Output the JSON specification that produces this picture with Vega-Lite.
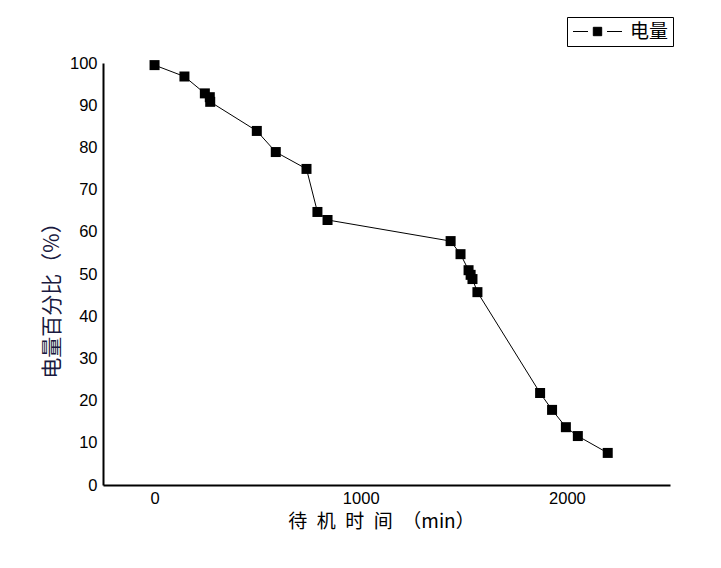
{
  "$schema": "https://vega.github.io/schema/vega-lite/v6.json",
  "autosize": "none",
  "width": 567,
  "height": 422,
  "padding": {"left": 103, "top": 63, "right": 51, "bottom": 83},
  "background": "white",
  "config": {"view": {"stroke": null}},
  "data": {"values": [
    {"t": 0, "p": 99.5, "s": "电量"},
    {"t": 145, "p": 96.8, "s": "电量"},
    {"t": 244, "p": 92.8, "s": "电量"},
    {"t": 268, "p": 91.9, "s": "电量"},
    {"t": 270, "p": 90.8, "s": "电量"},
    {"t": 496, "p": 83.9, "s": "电量"},
    {"t": 588, "p": 78.9, "s": "电量"},
    {"t": 737, "p": 74.9, "s": "电量"},
    {"t": 790, "p": 64.7, "s": "电量"},
    {"t": 839, "p": 62.8, "s": "电量"},
    {"t": 1436, "p": 57.8, "s": "电量"},
    {"t": 1484, "p": 54.7, "s": "电量"},
    {"t": 1523, "p": 50.9, "s": "电量"},
    {"t": 1533, "p": 49.8, "s": "电量"},
    {"t": 1542, "p": 48.8, "s": "电量"},
    {"t": 1566, "p": 45.7, "s": "电量"},
    {"t": 1870, "p": 21.8, "s": "电量"},
    {"t": 1928, "p": 17.8, "s": "电量"},
    {"t": 1995, "p": 13.7, "s": "电量"},
    {"t": 2053, "p": 11.6, "s": "电量"},
    {"t": 2198, "p": 7.6, "s": "电量"}
  ]},
  "encoding": {
    "x": {"field": "t", "type": "quantitative",
      "scale": {"domain": [-250, 2500], "nice": false, "zero": false},
      "axis": {"values": [0, 1000, 2000], "format": "d", "grid": false, "ticks": false, "domainColor": "black", "domainWidth": 2,
        "labelFont": "Liberation Sans", "labelFontSize": 16.5, "labelColor": "black", "labelPadding": 5,
        "title": "待\u2002机\u2002时\u2002间\u2002（min）", "titleFont": "Noto Sans CJK SC", "titleFontSize": 19, "titleFontWeight": "normal", "titleColor": "black", "titlePadding": 6, "titleX": 278, "titleAlign": "center"}},
    "y": {"field": "p", "type": "quantitative",
      "scale": {"domain": [0, 100], "nice": false},
      "axis": {"values": [0,10,20,30,40,50,60,70,80,90,100], "grid": false, "ticks": false, "domainColor": "black", "domainWidth": 2,
        "labelFont": "Liberation Sans", "labelFontSize": 16.5, "labelColor": "black", "labelPadding": 6,
        "title": "电量百分比（%）", "titleFont": "Noto Sans CJK SC", "titleFontSize": 21, "titleFontWeight": "normal", "titleColor": "#1a1a40", "titlePadding": 7, "titleY": 232, "titleAlign": "center"}},
    "color": {"field": "s", "type": "nominal", "scale": {"domain": ["电量"], "range": ["black"]},
      "legend": {"title": null, "orient": "none", "legendX": 464, "legendY": -46,
        "strokeColor": "black", "padding": 4, "fillColor": "white",
        "symbolType": "M-2.45,0L-0.95,0M0.95,0L2.45,0M-0.42,-0.42L0.42,-0.42L0.42,0.42L-0.42,0.42Z",
        "symbolSize": 400, "symbolOffset": 16, "symbolStrokeWidth": 1, "symbolFillColor": "black", "symbolStrokeColor": "black",
        "labelFont": "Noto Sans CJK SC", "labelFontSize": 19, "labelColor": "black", "labelOffset": 22}}
  },
  "layer": [
    {"mark": {"type": "line", "strokeWidth": 1, "color": "black"}},
    {"mark": {"type": "square", "size": 100, "filled": true, "opacity": 1, "color": "black"}}
  ]
}
